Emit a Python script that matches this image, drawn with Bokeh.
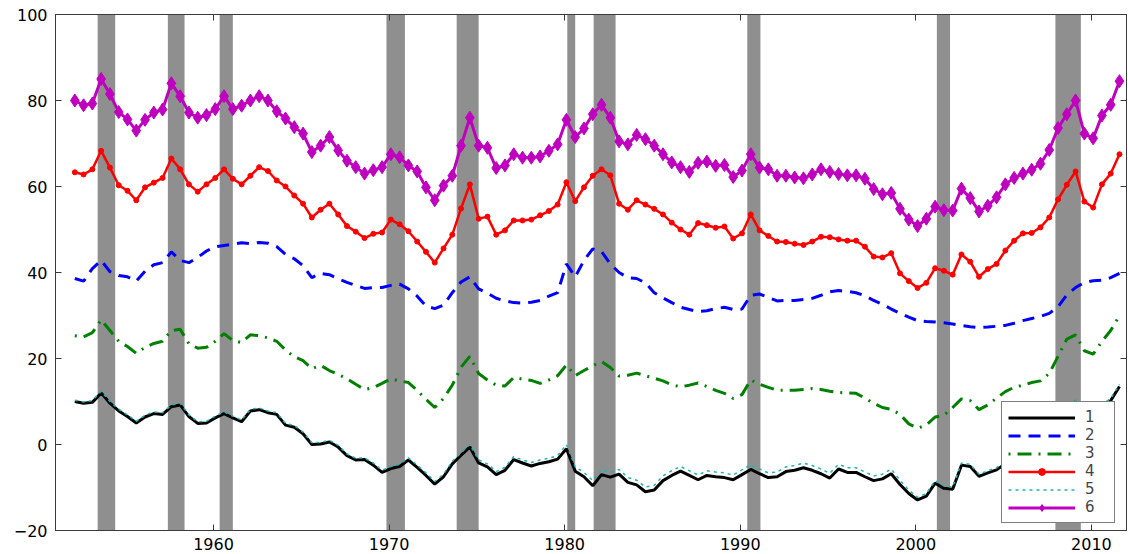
from bokeh.plotting import figure
from bokeh.models import Range1d, LinearAxis, FixedTicker, Legend, LegendItem
from bokeh.embed import file_html
from bokeh.resources import INLINE

# ---------------- data ----------------
X_MIN, X_MAX = 1951, 2012
Y_MIN, Y_MAX = -20, 100
x_ticks = [1960, 1970, 1980, 1990, 2000, 2010]
y_ticks = [-20, 0, 20, 40, 60, 80, 100]
y_tick_labels = ["\u221220", "0", "20", "40", "60", "80", "100"]
series_labels = ["1", "2", "3", "4", "5", "6"]

# semi-annual observation dates
dates = [round(1952.1 + 0.5 * i, 2) for i in range(120)]

rec_start = [1953.4, 1957.4, 1960.35, 1969.85, 1973.85, 1980.15, 1981.65, 1990.4, 2001.2, 2007.95]
rec_end = [1954.4, 1958.35, 1961.1, 1970.9, 1975.1, 1980.6, 1982.9, 1991.15, 2001.95, 2009.4]

s1 = [10.0, 9.6, 9.8, 12.0, 9.6, 7.8, 6.5, 5.0, 6.4, 7.2,
      7.0, 8.8, 9.2, 6.5, 4.9, 5.0, 6.2, 7.2, 6.2, 5.3,
      7.8, 8.1, 7.4, 7.0, 4.5, 4.0, 2.5, 0.0, 0.1, 0.6,
      -0.6, -2.6, -3.6, -3.5, -4.8, -6.5, -5.6, -5.1, -3.6, -5.3,
      -7.2, -9.2, -7.5, -4.5, -2.5, -0.6, -4.3, -5.2, -7.0, -6.0,
      -3.5, -4.3, -5.0, -4.4, -4.0, -3.4, -1.0, -6.2, -7.5, -9.6,
      -7.0, -7.6, -6.9, -8.8, -9.4, -11.0, -10.6, -8.4, -7.2, -6.2,
      -7.2, -8.2, -7.2, -7.5, -7.7, -8.2, -7.0, -5.8, -6.8, -7.7,
      -7.5, -6.3, -6.0, -5.4, -6.0, -6.8, -7.8, -5.7, -6.5, -6.5,
      -7.5, -8.4, -8.0, -6.8, -9.3, -11.4, -12.9, -12.0, -9.0, -10.2,
      -10.4, -4.8, -5.1, -7.4, -6.6, -5.9, -4.5, -3.0, -1.5, -0.5,
      0.5, 3.0, 5.0, 7.5, 10.0, 7.0, 7.2, 8.8, 10.2, 13.5]

s2 = [38.6, 38.0, 40.9, 42.8, 40.2, 39.3, 39.0, 38.0, 40.3, 41.8,
      42.3, 44.8, 42.8, 42.3, 43.5, 45.0, 46.0, 46.3, 46.6, 46.9,
      46.7, 47.0, 46.8, 46.0, 44.2, 43.2, 41.6, 38.8, 39.8, 39.5,
      38.5, 37.7, 37.0, 36.3, 36.5, 36.5, 37.0, 37.3, 36.2, 34.5,
      32.2, 31.6, 32.4, 35.3, 37.8, 39.0, 36.2, 35.2, 34.0, 33.4,
      33.0, 32.9, 33.1, 33.5, 34.5, 35.3, 42.0, 39.0, 42.8, 45.5,
      44.9, 42.0, 40.0, 38.8, 38.6, 37.6, 35.3, 34.1, 33.0, 31.9,
      31.4, 30.9, 31.1, 31.6, 31.9, 31.4, 31.5, 34.7, 35.0, 34.2,
      33.4, 33.5, 33.5, 33.7, 34.0, 34.7, 35.5, 35.8, 35.6, 35.3,
      34.6, 33.5, 32.6, 31.5, 30.5, 29.6, 28.8, 28.6, 28.5, 28.3,
      28.0, 27.7, 27.4, 27.2, 27.3, 27.5, 27.7, 28.2, 28.8, 29.3,
      29.8, 30.5, 32.0, 34.8, 36.5, 37.7, 38.1, 38.2, 38.8, 39.8]

s3 = [25.3, 25.0, 26.0, 29.0, 26.5, 24.0, 22.8, 21.2, 22.6, 23.5,
      24.0, 26.5, 26.8, 23.4, 22.4, 22.6, 24.0, 25.8, 24.2, 23.7,
      25.5, 25.3, 24.8, 24.0, 22.0, 20.4, 19.5, 17.6, 18.4, 17.2,
      16.3, 15.3, 14.0, 12.8, 13.2, 14.2, 15.3, 14.8, 14.4, 12.6,
      10.5, 8.6, 10.7, 13.8, 18.0, 20.5, 16.5, 15.0, 13.8, 13.6,
      15.6, 15.2, 14.9, 14.2, 15.0, 16.0, 18.5, 16.0, 17.2, 18.3,
      19.3, 17.9, 15.9, 16.1, 16.6, 16.0, 15.4, 14.8, 13.9, 13.4,
      13.8, 14.3, 13.5, 12.6, 11.9, 10.7, 11.6, 15.0, 14.0, 13.3,
      12.6, 12.6, 12.6, 12.8, 13.0, 12.8, 12.4, 12.1, 12.0, 11.9,
      10.8, 9.6, 8.6, 8.2, 7.0, 4.8, 3.8, 4.5, 6.4, 6.8,
      8.6, 10.6, 10.2, 8.1, 9.2, 10.8, 12.3, 13.3, 13.8, 14.4,
      14.8, 16.5, 20.5, 24.5, 25.5, 21.8, 21.0, 24.0, 26.5, 30.0]

s4 = [63.3, 62.8, 64.0, 68.3, 64.4, 60.3, 59.0, 56.8, 59.8, 60.9,
      62.0, 66.5, 64.0, 60.5, 58.8, 60.5, 62.0, 64.0, 61.8, 60.5,
      62.5, 64.5, 63.6, 61.4, 60.0, 57.9, 56.0, 52.8, 54.6, 56.0,
      53.5, 50.8, 49.5, 48.0, 49.0, 49.3, 52.3, 51.2, 49.6, 47.2,
      44.8, 42.3, 45.6, 48.8, 54.9, 60.5, 52.5, 53.0, 48.8, 49.8,
      52.1, 52.1, 52.3, 53.3, 54.3, 55.8, 61.0, 56.6, 59.8, 62.5,
      64.0, 62.6, 56.0, 54.6, 56.8, 55.8, 54.8, 53.5, 51.6, 50.0,
      48.8, 51.5, 51.0, 50.4, 50.7, 47.9, 49.1, 53.5, 49.8, 48.5,
      47.2, 47.1, 46.7, 46.4, 47.2, 48.3, 48.2, 47.7, 47.4, 47.4,
      46.0, 43.7, 43.5, 44.5, 39.8, 38.0, 36.4, 37.6, 41.0, 40.4,
      39.5, 44.2, 42.5, 39.0, 40.8, 42.0, 45.1, 47.4, 49.1, 49.2,
      50.5, 52.8, 57.0, 60.4, 63.5, 56.5, 55.1, 60.5, 63.0, 67.5]

s5 = [10.3, 9.9, 10.2, 12.4, 10.0, 8.2, 6.9, 5.4, 6.8, 7.6,
      7.4, 9.2, 9.6, 6.9, 5.3, 5.4, 6.6, 7.6, 6.6, 5.7,
      8.2, 8.5, 7.8, 7.4, 4.9, 4.4, 2.9, 0.4, 0.5, 1.0,
      -0.2, -2.2, -3.2, -3.1, -4.3, -6.0, -5.1, -4.6, -3.1, -4.8,
      -6.6, -8.6, -6.9, -3.9, -1.9, 0.0, -3.6, -4.5, -6.3, -5.3,
      -2.8, -3.6, -4.2, -3.6, -3.2, -2.6, 0.0, -5.2, -6.5, -8.4,
      -5.9, -6.5, -5.8, -7.7, -8.3, -9.9, -9.5, -7.3, -6.1, -5.1,
      -6.1, -7.1, -6.1, -6.4, -6.6, -7.1, -5.9, -4.7, -5.7, -6.6,
      -6.4, -5.2, -4.9, -4.3, -4.9, -5.7, -6.7, -4.6, -5.4, -5.4,
      -6.4, -7.3, -6.9, -5.7, -8.3, -10.6, -12.3, -11.4, -8.4, -9.6,
      -9.9, -4.3, -4.6, -6.9, -6.1, -5.4, -4.0, -2.5, -1.0, 0.0,
      1.0, 3.5, 5.5, 8.0, 10.4, 7.5, 7.7, 9.3, 10.7, 14.0]

s6 = [80.0, 78.9, 79.3, 85.0, 81.5, 77.3, 75.6, 73.0, 75.5, 77.2,
      77.9, 84.0, 81.0, 77.2, 76.0, 76.6, 78.0, 81.0, 78.0, 78.8,
      80.0, 81.0, 80.0, 77.5, 75.8, 73.8, 72.3, 68.0, 69.5, 71.5,
      68.4, 66.0, 64.5, 63.0, 63.8, 64.5, 67.5, 66.8, 64.9, 63.5,
      59.8, 56.8, 60.2, 62.5, 69.5, 76.0, 69.5, 69.0, 64.3, 64.9,
      67.5, 66.7, 66.7, 67.0, 68.3, 69.8, 75.5, 71.5, 73.5, 76.8,
      79.0, 76.0, 70.5, 69.8, 72.0, 71.0, 69.5, 67.5, 65.6, 64.5,
      63.4, 65.5, 65.8, 64.8, 65.0, 62.2, 63.7, 67.5, 64.4, 64.0,
      62.5, 62.5, 62.1, 61.9, 62.8, 64.0, 63.4, 62.9, 62.6, 62.6,
      61.8, 59.4, 58.2, 58.5, 54.8, 52.3, 50.8, 52.5, 55.3, 54.5,
      54.4, 59.5, 57.3, 54.2, 55.5, 57.5, 60.5, 62.0, 63.0, 63.9,
      65.3, 68.5, 73.6, 76.8, 80.0, 72.3, 71.2, 76.5, 79.0, 84.5]

# ---------------- figure ----------------
FONT = "DejaVu Sans"
AX = "#3a3a3a"

p = figure(width=1128, height=554,
           x_range=Range1d(X_MIN, X_MAX), y_range=Range1d(Y_MIN, Y_MAX),
           output_backend="svg", toolbar_location=None,
           min_border_left=55, min_border_right=2, min_border_top=14, min_border_bottom=24)
p.xgrid.visible = False
p.ygrid.visible = False
p.outline_line_color = AX
p.outline_line_width = 1
p.background_fill_color = "white"
p.border_fill_color = "white"


def style_axis(ax, ticks, show_labels=True):
    ax.ticker = FixedTicker(ticks=ticks)
    ax.major_tick_in = 6
    ax.major_tick_out = 0
    ax.minor_tick_in = 0
    ax.minor_tick_out = 0
    ax.axis_line_color = AX
    ax.major_tick_line_color = AX
    ax.major_label_text_font = FONT
    if show_labels:
        ax.major_label_text_color = "black"
        ax.major_label_text_font_size = "16px"
        ax.major_label_standoff = 7
    else:
        ax.major_label_text_color = None
        ax.major_label_text_font_size = "1px"
        ax.major_label_standoff = 0


style_axis(p.xaxis[0], x_ticks)
style_axis(p.yaxis[0], y_ticks)
p.yaxis[0].major_label_overrides = dict(zip(y_ticks, y_tick_labels))
p.yaxis[0].major_label_standoff = 8

top_ax = LinearAxis()
style_axis(top_ax, x_ticks, show_labels=False)
p.add_layout(top_ax, "above")
right_ax = LinearAxis()
style_axis(right_ax, y_ticks, show_labels=False)
p.add_layout(right_ax, "right")

# recession bands
p.quad(left=rec_start, right=rec_end, bottom=Y_MIN, top=Y_MAX,
       fill_color="#8f8f8f", line_color=None)

r1 = p.line(dates, s1, line_color="black", line_width=3)
r2 = p.line(dates, s2, line_color="#0000ff", line_width=3, line_dash="12 8")
r3 = p.line(dates, s3, line_color="#008000", line_width=3, line_dash="2 7 14 7")
r4 = p.line(dates, s4, line_color="#ff0000", line_width=2.5)
r4m = p.scatter(dates, s4, marker="circle", size=5, fill_color="#ff0000", line_color="#ff0000")
r5 = p.line(dates, s5, line_color="#1fb3b3", line_width=1.5, line_dash="3 4")
r6 = p.line(dates, s6, line_color="#bf00bf", line_width=3)
r6m = p.scatter(dates, s6, marker="diamond", size=13, fill_color="#bf00bf", line_color="#bf00bf")

items = [
    LegendItem(label=series_labels[0], renderers=[r1]),
    LegendItem(label=series_labels[1], renderers=[r2]),
    LegendItem(label=series_labels[2], renderers=[r3]),
    LegendItem(label=series_labels[3], renderers=[r4, r4m]),
    LegendItem(label=series_labels[4], renderers=[r5]),
    LegendItem(label=series_labels[5], renderers=[r6, r6m]),
]
legend = Legend(items=items, location=(946, 7), margin=0, padding=6, spacing=0,
                glyph_width=67, glyph_height=17, label_height=17, label_width=23,
                label_standoff=10, label_text_font=FONT, label_text_font_size="15px",
                border_line_color="black", border_line_width=1,
                background_fill_color="white", background_fill_alpha=1.0)
p.add_layout(legend)

open("out.html", "w").write(file_html(p, INLINE))
